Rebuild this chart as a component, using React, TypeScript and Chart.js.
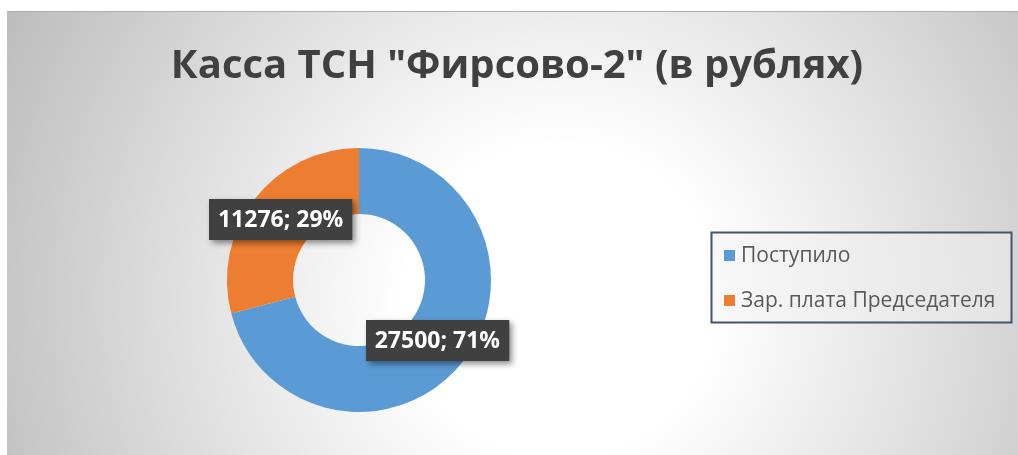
import React, { useEffect, useRef } from "react";
import { Chart, registerables } from "chart.js";

Chart.register(...registerables);

const categories: string[] = ["Поступило", "Зар. плата Председателя"];
const values: number[] = [27500, 11276];
const colors: string[] = ["#5B9BD5", "#ED7D31"];
const titleText = 'Касса ТСН "Фирсово-2" (в рублях)';

const W = 1018;
const H = 455;

const decorPlugin = {
  id: "decor",
  beforeDraw(chart: any) {
    const ctx = chart.ctx as CanvasRenderingContext2D;
    ctx.save();
    ctx.fillStyle = "#ffffff";
    ctx.fillRect(0, 0, W, H);
    const g = ctx.createRadialGradient(560, 300, 0, 560, 300, 620);
    g.addColorStop(0, "#ffffff");
    g.addColorStop(0.25, "#ffffff");
    g.addColorStop(1, "#bdbdbd");
    ctx.fillStyle = g;
    ctx.fillRect(7, 11, W - 7, H - 11);
    ctx.strokeStyle = "#b0b0b0";
    ctx.lineWidth = 1;
    ctx.beginPath();
    ctx.moveTo(7, 11.5);
    ctx.lineTo(W, 11.5);
    ctx.stroke();
    // title
    ctx.fillStyle = "#404040";
    ctx.font = "bold 40px 'Open Sans', sans-serif";
    ctx.textAlign = "center";
    ctx.textBaseline = "alphabetic";
    ctx.fillText(titleText, 517, 78);
    ctx.restore();
  },
  afterDraw(chart: any) {
    const ctx = chart.ctx as CanvasRenderingContext2D;
    const meta = chart.getDatasetMeta(0);
    const ds = chart.data.datasets[0].data as number[];
    const total = ds.reduce((a: number, b: number) => a + b, 0);
    ctx.save();
    meta.data.forEach((arc: any, i: number) => {
      const p = arc.tooltipPosition();
      const pct = Math.round((ds[i] / total) * 100);
      const text = `${ds[i]}; ${pct}%`;
      ctx.font = "bold 23px 'Open Sans', sans-serif";
      const tw = ctx.measureText(text).width;
      const bw = tw + 18;
      const bh = 41;
      const x = Math.round(p.x - bw / 2);
      const y = Math.round(p.y - bh / 2);
      ctx.save();
      ctx.shadowColor = "rgba(0,0,0,0.45)";
      ctx.shadowBlur = 6;
      ctx.shadowOffsetX = 3;
      ctx.shadowOffsetY = 3;
      ctx.fillStyle = "#404040";
      ctx.fillRect(x, y, bw, bh);
      ctx.restore();
      ctx.fillStyle = "#ffffff";
      ctx.textAlign = "center";
      ctx.textBaseline = "middle";
      ctx.fillText(text, p.x, p.y + 1);
    });
    // legend
    const lx = 711.5, ly = 232.5, lw = 300, lh = 90;
    ctx.fillStyle = "rgba(242,242,242,0.5)";
    ctx.fillRect(lx, ly, lw, lh);
    ctx.strokeStyle = "#44546A";
    ctx.lineWidth = 2;
    ctx.strokeRect(lx, ly, lw, lh);
    ctx.font = "21px 'Open Sans', sans-serif";
    ctx.textAlign = "left";
    ctx.textBaseline = "middle";
    const labels = chart.data.labels as string[];
    labels.forEach((lab: string, i: number) => {
      const cy = 255 + i * 45;
      ctx.fillStyle = colors[i];
      ctx.fillRect(724, cy - 5, 11, 11);
      ctx.fillStyle = "#595959";
      ctx.fillText(lab, 741, cy + 1);
    });
    ctx.restore();
  },
};

export default function App() {
  const ref = useRef<HTMLCanvasElement | null>(null);
  useEffect(() => {
    document.body.style.margin = "0";
    if (!ref.current) return;
    const chart = new Chart(ref.current, {
      type: "doughnut",
      data: {
        labels: categories,
        datasets: [
          {
            data: values,
            backgroundColor: colors,
            borderWidth: 0,
          },
        ],
      },
      options: {
        responsive: false,
        animation: false,
        cutout: "50%",
        layout: { padding: { left: 227, right: 527, top: 148, bottom: 43 } },
        plugins: {
          legend: { display: false },
          title: { display: false },
          tooltip: { enabled: false },
        },
      },
      plugins: [decorPlugin],
    });
    return () => chart.destroy();
  }, []);
  return (
    <div style={{ position: "absolute", left: 0, top: 0, width: W, height: H }}>
      <canvas ref={ref} width={W} height={H} style={{ width: W, height: H }} />
    </div>
  );
}
